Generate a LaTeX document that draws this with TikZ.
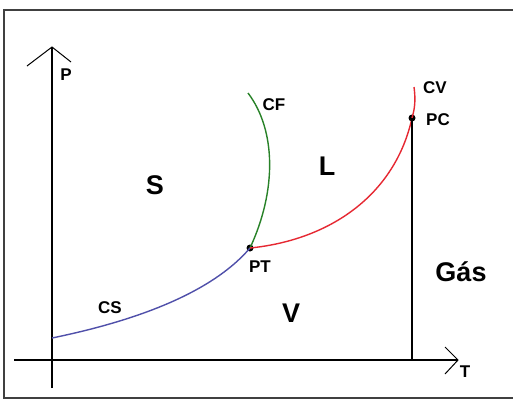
\documentclass[tikz,border=0pt]{standalone}
\usepackage{fontspec}
\setmainfont{Liberation Sans}
\begin{document}
\begin{tikzpicture}[x=1pt,y=-1pt,
  small/.style={font=\bfseries\fontsize{17}{19}\selectfont,inner sep=0pt},
  big/.style={font=\bfseries\fontsize{27}{30}\selectfont,inner sep=0pt},
  axis/.style={line width=1.4pt,black},
  tipline/.style={line width=1pt,black},
  dot/.style={circle,fill=black,inner sep=0pt,minimum size=7pt}]
\useasboundingbox (0,0) rectangle (513,400);
\fill[white] (0,0) rectangle (513,400);
% frame
\draw[line width=2.2pt,black!75] (515,10) -- (4,10) -- (4,398) -- (515,398);
% axes
\coordinate (ptop) at (52,47);
\coordinate (pbot) at (52,388);
\coordinate (tleft) at (14,360);
\coordinate (tright) at (458,360);
\draw[axis] (pbot) -- (ptop);
\draw[axis] (tleft) -- (tright);
\draw[tipline] (27,66) -- (ptop) -- (71,62);
\draw[tipline] (445,347) -- (tright) -- (445,374);
% points
\node[dot] (PT) at (250,248) {};
\node[dot] (PC) at (412,118) {};
\coordinate (CVend) at (414,87);
\coordinate (CFend) at (248,93);
\coordinate (CSend) at (52,338);
\coordinate (base) at (412,360);
% curves
\draw[line width=1.4pt,color={rgb,255:red,80;green,80;blue,170}] (CSend) .. controls (130,322) and (210,295) .. (PT.center);
\draw[line width=1.4pt,color={rgb,255:red,40;green,130;blue,40}] (PT.center) .. controls (277,190) and (276,130) .. (CFend);
\draw[line width=1.4pt,color={rgb,255:red,230;green,40;blue,50}] (PT.center) .. controls (330,240) and (395,195) .. (PC.center) .. controls (416,105) and (415,95) .. (CVend);
\draw[axis] (base) -- (PC.center);
% labels
\node[small] (lP) at (66,75) {P};
\node[small] (lCF) at (274,105) {CF};
\node[small] (lCV) at (435,88) {CV};
\node[small] (lPC) at (438,120) {PC};
\node[small] (lPT) at (260,267) {PT};
\node[small] (lCS) at (110,308) {CS};
\node[small] (lT) at (465,372) {T};
\node[big] (lS) at (155,185) {S};
\node[big] (lL) at (327,166) {L};
\node[big] (lV) at (291,313) {V};
\node[big] (lG) at (461,272) {Gás};
\end{tikzpicture}
\end{document}
